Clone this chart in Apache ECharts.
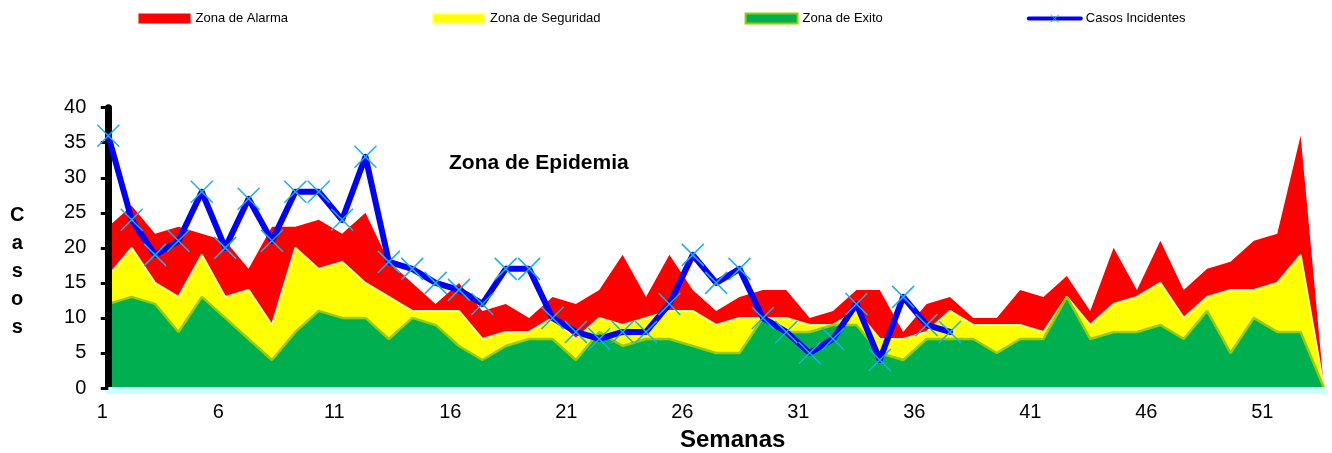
<!DOCTYPE html>
<html>
<head>
<meta charset="utf-8">
<script src="https://cdn.jsdelivr.net/npm/echarts@6/dist/echarts.min.js"></script>
<style>
  html, body { margin: 0; padding: 0; background: #ffffff; }
  #chart { width: 1332px; height: 453px; }
</style>
</head>
<body>
<div id="chart"></div>
<script>
// ---- Data ----
const weeks = Array.from({length: 53}, (_, i) => String(i + 1));
const zonaAlarma = [23,26,22,23,22,21,17,23,23,24,22,25,18,15,12,15,11,12,10,13,12,14,19,13,19,14,11,13,14,14,10,11,14,14,8,12,13,10,10,14,13,16,11,20,14,21,14,17,18,21,22,36,0];
const zonaSeguridad = [16,20,15,13,19,13,14,9,20,17,18,15,13,11,11,11,7,8,8,10,7,10,9,10,11,11,9,10,10,10,9,9,11,7,7,8,11,9,9,9,8,13,9,12,13,15,10,13,14,14,15,19,0];
const zonaExito = [12,13,12,8,13,10,7,4,8,11,10,10,7,10,9,6,4,6,7,7,4,8,6,7,7,6,5,5,10,8,8,9,9,5,4,7,7,7,5,7,7,13,7,8,8,9,7,11,5,10,8,8,0];
const casosIncidentes = [36,24,19,21,28,20,27,21,28,28,24,33,18,17,15,14,12,17,17,10,8,7,8,8,12,19,15,17,10,8,5,7,12,4,13,9,8];
const yTicks = {min: 0, max: 40, interval: 5};

const FONT = 'Liberation Sans, Arial, sans-serif';
const chart = echarts.init(document.getElementById('chart'), null, {renderer: 'canvas'});

const option = {
  animation: false,
  backgroundColor: '#ffffff',
  textStyle: {fontFamily: FONT},
  legend: {
    left: 138, top: 12, padding: 0,
    itemWidth: 52, itemHeight: 10, itemGap: 144,
    textStyle: {fontSize: 13, color: '#000', fontFamily: FONT},
    data: [
      {name: 'Zona de Alarma', icon: 'rect', itemStyle: {color: '#FF0000', borderColor: '#FF8080', borderWidth: 1}},
      {name: 'Zona de Seguridad', icon: 'rect', itemStyle: {color: '#FFFF00', borderColor: '#FFFF99', borderWidth: 2}},
      {name: 'Zona de Exito', icon: 'rect', itemStyle: {color: '#00B050', borderColor: '#99CC00', borderWidth: 2}},
      {name: 'Casos Incidentes', lineStyle: {width: 4, color: '#0000FF'}, itemStyle: {color: 'rgba(0,0,0,0)', borderColor: '#1AB0E8', borderWidth: 1}}
    ]
  },
  grid: [
    {left: 108.3, right: 8, top: 107.7, bottom: 65, containLabel: false},
    {left: 102.3, right: 23.3, top: 107.7, bottom: 65, containLabel: false}
  ],
  xAxis: [
    {
      type: 'category', gridIndex: 0, data: weeks, boundaryGap: false, offset: 2, z: 4,
      axisLine: {show: true, onZero: false, lineStyle: {color: '#CCFFFF', width: 7}},
      axisTick: {show: false}, axisLabel: {show: false}, splitLine: {show: false}
    },
    {
      type: 'category', gridIndex: 1, data: weeks, boundaryGap: false,
      axisLine: {show: false}, axisTick: {show: false}, splitLine: {show: false},
      axisLabel: {show: true, interval: 4, fontSize: 20, color: '#000', margin: 14, fontFamily: FONT}
    }
  ],
  yAxis: [
    {
      type: 'value', gridIndex: 0, min: yTicks.min, max: yTicks.max, interval: yTicks.interval, z: 4,
      axisLine: {show: true, lineStyle: {color: '#000', width: 7}},
      axisTick: {show: true, length: 7.5, lineStyle: {color: '#000', width: 3}},
      axisLabel: {fontSize: 20, color: '#000', margin: 22, fontFamily: FONT},
      splitLine: {show: false}
    },
    {type: 'value', gridIndex: 1, min: 0, max: 1, show: false}
  ],
  graphic: [
    {type: 'text', left: 449, top: 153, style: {text: 'Zona de Epidemia', font: 'bold 21px ' + FONT, fill: '#000'}},
    {type: 'text', left: 680, top: 428, style: {text: 'Semanas', font: 'bold 24px ' + FONT, fill: '#000', textAlign: 'center'}},
    {type: 'text', left: 10, top: 201, style: {text: 'C\na\ns\no\ns', font: 'bold 20px ' + FONT, fill: '#000', lineHeight: 28, textAlign: 'center'}}
  ],
  series: [
    {
      name: 'Zona de Alarma', type: 'line', xAxisIndex: 0, yAxisIndex: 0, data: zonaAlarma,
      symbol: 'none', lineStyle: {width: 0, color: '#FF0000'}, itemStyle: {color: '#FF0000'},
      areaStyle: {color: '#FF0000', opacity: 1}, z: 1
    },
    {
      name: 'Zona de Seguridad', type: 'line', xAxisIndex: 0, yAxisIndex: 0, data: zonaSeguridad,
      symbol: 'none', lineStyle: {width: 2, color: '#FFFF99'}, itemStyle: {color: '#FFFF00'},
      areaStyle: {color: '#FFFF00', opacity: 1}, z: 2
    },
    {
      name: 'Zona de Exito', type: 'line', xAxisIndex: 0, yAxisIndex: 0, data: zonaExito,
      symbol: 'none', lineStyle: {width: 2.5, color: '#99CC00'}, itemStyle: {color: '#00B050'},
      areaStyle: {color: '#00B050', opacity: 1}, z: 3
    },
    {
      name: 'Casos Incidentes', type: 'line', xAxisIndex: 0, yAxisIndex: 0, data: casosIncidentes,
      symbol: 'path://M0,0L20,20M20,0L0,20', symbolSize: 22, showAllSymbol: true,
      lineStyle: {width: 6, color: '#0000FF', join: 'round', cap: 'round'},
      itemStyle: {color: 'rgba(0,0,0,0)', borderColor: '#1AB0E8', borderWidth: 1.5},
      emphasis: {disabled: true}, z: 5
    }
  ]
};
chart.setOption(option);
</script>
</body>
</html>
